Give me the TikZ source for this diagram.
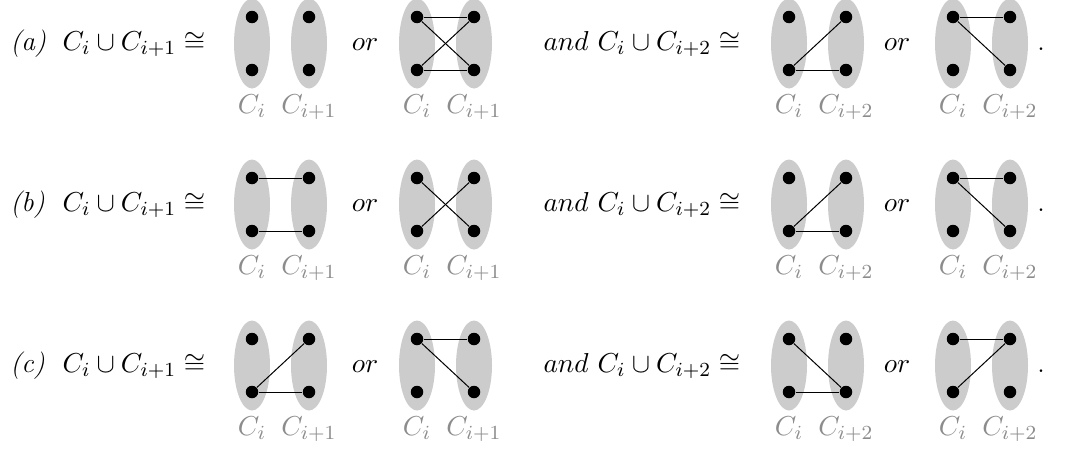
\documentclass[tikz,border=0pt]{standalone}
\usetikzlibrary{calc}
\tikzset{
  blob/.style={fill=black!20},
  dot/.style={circle,fill=black,inner sep=0pt,minimum size=5pt},
  edge/.style={line width=0.4pt,black},
  lab/.style={text=black!45,anchor=base,inner sep=0pt},
  txt/.style={anchor=base west,inner sep=0pt},
  ortxt/.style={anchor=base,inner sep=0pt},
}
\newcommand{\bipgraph}[4]{% #1 id, #2 x, #3 y mid, #4 right subscript
  \begin{scope}[shift={(#2,#3)}]
    \fill[blob] (0,0) ellipse [x radius=7.2pt, y radius=18pt];
    \fill[blob] (57,0) ellipse [x radius=7.2pt, y radius=18pt];
    \node[dot] (#1lt) at (0,-26.5) {};
    \node[dot] (#1lb) at (0,26.5) {};
    \node[dot] (#1rt) at (57,-26.5) {};
    \node[dot] (#1rb) at (57,26.5) {};
    \node[lab] (#1la) at (0,69.5) {$C_i$};
    \node[lab] (#1lr) at (57,69.5) {$C_{#4}$};
  \end{scope}
}
\begin{document}
\begin{tikzpicture}[x=0.4pt,y=-0.4pt,font=\fontsize{11}{13}\selectfont]
\useasboundingbox (0,0) rectangle (1086,453);
% row positions
\foreach \r/\y/\name in {a/43.5/a,b/204.5/b,c/365.5/c}{
  \node[txt] (\r lab) at (10,\y+6.5) {\textit{(\name)}};
  \node[txt] (\r lhs) at (62,\y+6.5) {$C_i\cup C_{i+1}\cong$};
  \node[ortxt] (\r or1) at (365,\y+6.5) {$or$};
  \node[txt] (\r and) at (543,\y+6.5) {$and\ C_i\cup C_{i+2}\cong$};
  \node[ortxt] (\r or2) at (897,\y+6.5) {$or$};
  \node[ortxt] (\r dot) at (1041,\y+6.5) {.};
}
% row a
\bipgraph{a1}{252}{43.5}{i+1}
\bipgraph{a2}{417}{43.5}{i+1}
\bipgraph{a3}{789}{43.5}{i+2}
\bipgraph{a4}{953}{43.5}{i+2}
\draw[edge] (a2lt) -- (a2rt);
\draw[edge] (a2lb) -- (a2rb);
\draw[edge] (a2lt) -- (a2rb);
\draw[edge] (a2lb) -- (a2rt);
\draw[edge] (a3lb) -- (a3rt);
\draw[edge] (a3lb) -- (a3rb);
\draw[edge] (a4lt) -- (a4rt);
\draw[edge] (a4lt) -- (a4rb);
% row b
\bipgraph{b1}{252}{204.5}{i+1}
\bipgraph{b2}{417}{204.5}{i+1}
\bipgraph{b3}{789}{204.5}{i+2}
\bipgraph{b4}{953}{204.5}{i+2}
\draw[edge] (b1lt) -- (b1rt);
\draw[edge] (b1lb) -- (b1rb);
\draw[edge] (b2lt) -- (b2rb);
\draw[edge] (b2lb) -- (b2rt);
\draw[edge] (b3lb) -- (b3rt);
\draw[edge] (b3lb) -- (b3rb);
\draw[edge] (b4lt) -- (b4rt);
\draw[edge] (b4lt) -- (b4rb);
% row c
\bipgraph{c1}{252}{365.5}{i+1}
\bipgraph{c2}{417}{365.5}{i+1}
\bipgraph{c3}{789}{365.5}{i+2}
\bipgraph{c4}{953}{365.5}{i+2}
\draw[edge] (c1lb) -- (c1rt);
\draw[edge] (c1lb) -- (c1rb);
\draw[edge] (c2lt) -- (c2rt);
\draw[edge] (c2lt) -- (c2rb);
\draw[edge] (c3lt) -- (c3rb);
\draw[edge] (c3lb) -- (c3rb);
\draw[edge] (c4lt) -- (c4rt);
\draw[edge] (c4lb) -- (c4rt);
\end{tikzpicture}
\end{document}
